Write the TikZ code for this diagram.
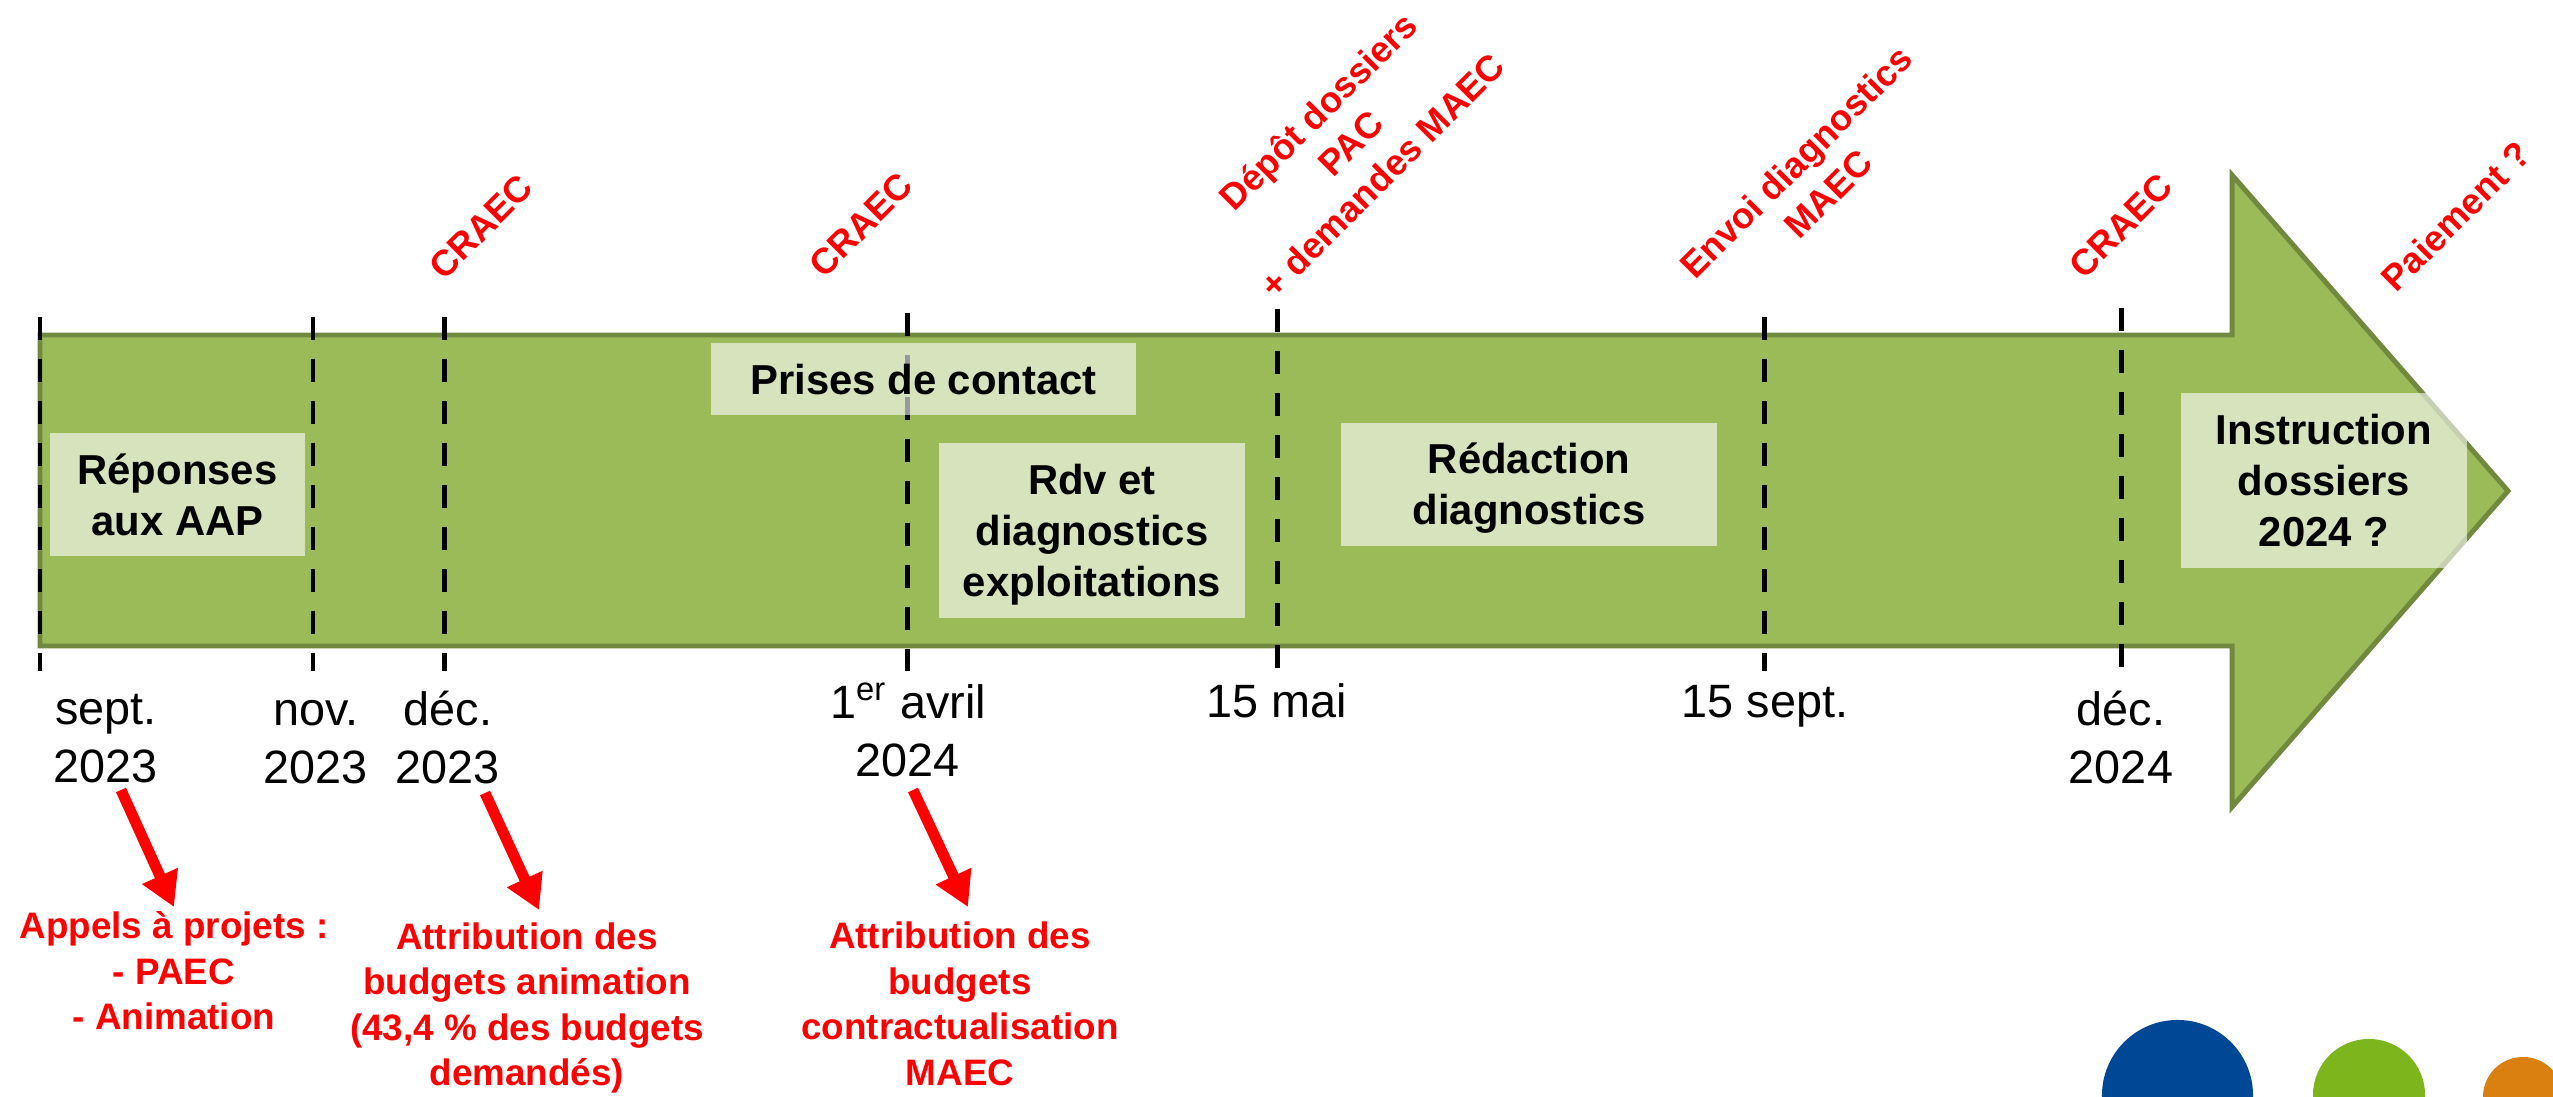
\documentclass[tikz,border=0pt]{standalone}
\usepackage{fontspec}
\setmainfont{Liberation Sans}
\usetikzlibrary{arrows.meta}
\definecolor{arrowfill}{HTML}{9BBB59}
\definecolor{arrowline}{HTML}{71893F}
\definecolor{logoblue}{RGB}{0,72,150}
\definecolor{logogreen}{RGB}{125,181,29}
\definecolor{logoorange}{RGB}{217,128,16}
\tikzset{
  datelbl/.style={font=\fontsize{13.3}{16.5}\selectfont, align=center, inner sep=0pt},
  boxfill/.style={fill=white, fill opacity=0.6, inner sep=0pt},
  boxlbl/.style={font=\bfseries\fontsize{11.9}{14.5}\selectfont, align=center, inner sep=0pt},
  rotlbl/.style={text=red, font=\bfseries\fontsize{10.3}{12.9}\selectfont, align=center, rotate=45, inner sep=0pt},
  notelbl/.style={text=red, font=\bfseries\fontsize{10.47}{12.95}\selectfont, align=center, inner sep=0pt},
  timeline/.style={black, line width=1.42pt, dash pattern=on 6.54pt off 5.4pt},
  redarrow/.style={red, line width=3.1pt, -{Triangle[length=9.7pt,width=10.5pt]}},
}
\begin{document}
\begin{tikzpicture}[x=0.01cm,y=-0.01cm]
\useasboundingbox (0,0) rectangle (2553,1097);
% big arrow
\draw[arrowline, fill=arrowfill, line width=1.42pt, line join=miter]
  (40,335) -- (2232,335) -- (2232,175) -- (2508,491) -- (2232,807) -- (2232,646) -- (40,646) -- cycle;
% timeline dashed markers
\foreach \n/\x/\y in {1/40/317, 2/313/317, 3/444/317, 4/907/313, 5/1277/309, 6/1764/317, 7/2121/308}{
  \coordinate (top\n) at (\x,\y);
  \coordinate (bot\n) at (\x,671);
  \draw[timeline] (top\n) -- (bot\n);
}
% phase boxes
\node[boxfill, minimum width=2.55cm, minimum height=1.23cm] (reponsesbox) at (177.5,494.5) {};
\node[boxfill, minimum width=4.25cm, minimum height=0.72cm] (prisesbox) at (923.5,379) {};
\node[boxfill, minimum width=3.06cm, minimum height=1.75cm] (rdvbox) at (1092,530.5) {};
\node[boxfill, minimum width=3.76cm, minimum height=1.23cm] (redactionbox) at (1529,484.5) {};
\node[boxfill, minimum width=2.86cm, minimum height=1.75cm] (instructionbox) at (2324,480.5) {};
\node[boxlbl] (reponses) at (177.5,494.5) {Réponses\\aux AAP};
\node[boxlbl] (prises) at (923.5,379.5) {Prises de contact};
\node[boxlbl] (rdv) at (1092,534.5) {Rdv et\\diagnostics\\exploitations};
\node[boxlbl] (redaction) at (1529,488.5) {Rédaction\\diagnostics};
\node[boxlbl] (instruction) at (2324,481) {Instruction\\dossiers\\2024 ?};
% dates
\node[datelbl] (d1) at (106,739) {sept.\\2023};
\node[datelbl] (d2) at (316,742) {nov.\\2023};
\node[datelbl] (d3) at (448,737.5) {déc.\\2023};
\node[datelbl] (d4) at (908,730) {1\textsuperscript{er} avril\\2024};
\node[datelbl] (d5) at (1277,701) {15 mai};
\node[datelbl] (d6) at (1765,706) {15 sept.};
\node[datelbl] (d7) at (2121,737.5) {déc.\\2024};
% rotated red events
\node[rotlbl] (e1) at (481,227) {CRAEC};
\node[rotlbl] (e2) at (861,225) {CRAEC};
\node[rotlbl] (e3) at (1350,143) {Dépôt dossiers\\PAC\\+ demandes MAEC};
\node[rotlbl] (e4) at (1812,178) {Envoi diagnostics\\MAEC};
\node[rotlbl] (e5) at (2121,226) {CRAEC};
\node[rotlbl] (e6) at (2456,216) {Paiement ?};
% bottom notes
\node[notelbl] (n1) at (174,971) {Appels à projets :\\- PAEC\\- Animation};
\node[notelbl] (n2) at (527,1008) {Attribution des\\budgets animation\\(43,4 \% des budgets\\demandés)};
\node[notelbl] (n3) at (960,1004) {Attribution des\\budgets\\contractualisation\\MAEC};
% red arrows
\coordinate (a1s) at (121,790); \coordinate (a1e) at (174,907);
\coordinate (a2s) at (485,793); \coordinate (a2e) at (539,910);
\coordinate (a3s) at (913,790); \coordinate (a3e) at (968,907);
\draw[redarrow] (a1s) -- (a1e);
\draw[redarrow] (a2s) -- (a2e);
\draw[redarrow] (a3s) -- (a3e);
% logo circles
\begin{scope}
  \clip (0,0) rectangle (2553,1097);
  \fill[logoblue] (2177.5,1095.5) circle[radius=0.755cm];
  \fill[logogreen] (2369,1095) circle[radius=0.56cm];
  \fill[logoorange] (2523,1097) circle[radius=0.40cm];
\end{scope}
\end{tikzpicture}
\end{document}
